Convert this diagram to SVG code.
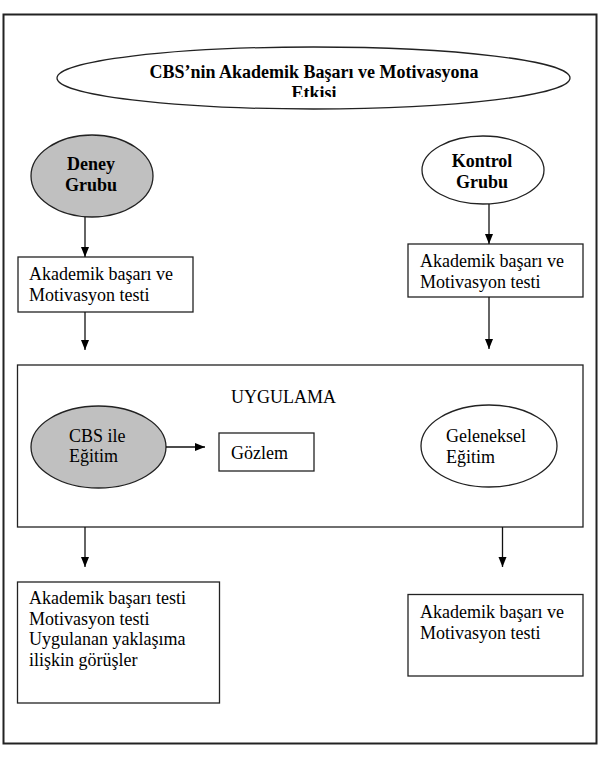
<svg xmlns="http://www.w3.org/2000/svg" width="598" height="758" viewBox="0 0 598 758">
<style>
text{font-family:"Liberation Serif","Times New Roman",serif;font-size:18px;fill:#000}
.b{font-weight:bold}
.m{text-anchor:middle}
.box{fill:#fff;stroke:#222;stroke-width:1.3}
.ell{fill:#fff;stroke:#222;stroke-width:1.3}
.grey{fill:#c0c0c0}
.ln{stroke:#111;stroke-width:1.3;fill:none}
</style>
<defs>
<marker id="ah" markerUnits="userSpaceOnUse" markerWidth="10" markerHeight="10" viewBox="0 0 10 10" refX="10" refY="5" orient="auto">
<path d="M0,1 L10,5 L0,9 Z" fill="#000"/>
</marker>
<clipPath id="tclip"><rect x="0" y="0" width="598" height="97"/></clipPath>
</defs>
<rect id="frame" x="3.5" y="14.5" width="593" height="729" fill="#fff" stroke="#222" stroke-width="2"/>
<g id="title">
<ellipse class="ell" cx="313.5" cy="78" rx="256.5" ry="31"/>
<text class="b m" x="314" y="78">CBS’nin Akademik Başarı ve Motivasyona</text>
<text class="b m" x="314" y="99" clip-path="url(#tclip)">Etkisi</text>
</g>
<g id="deney">
<ellipse class="ell grey" cx="92" cy="176" rx="61" ry="41"/>
<text class="b m" x="91" y="170">Deney</text>
<text class="b m" x="91" y="191">Grubu</text>
</g>
<g id="kontrol">
<ellipse class="ell" cx="483" cy="170" rx="61" ry="34"/>
<text class="b m" x="482" y="167">Kontrol</text>
<text class="b m" x="482" y="188">Grubu</text>
</g>
<g id="test1">
<rect class="box" x="18" y="257" width="175" height="55"/>
<text x="29" y="280">Akademik başarı ve</text>
<text x="29" y="301">Motivasyon testi</text>
</g>
<g id="test2">
<rect class="box" x="408" y="244" width="175" height="53"/>
<text x="420" y="267">Akademik başarı ve</text>
<text x="420" y="288">Motivasyon testi</text>
</g>
<g id="uygulama">
<rect class="box" x="17.5" y="365" width="565.5" height="162"/>
<text x="231" y="403">UYGULAMA</text>
</g>
<g id="cbsegitim">
<ellipse class="ell grey" cx="98.5" cy="447" rx="67.5" ry="41"/>
<text x="69" y="442">CBS ile</text>
<text x="69" y="462">Eğitim</text>
</g>
<g id="gozlem">
<rect class="box" x="219" y="433" width="95" height="38"/>
<text x="231" y="459">Gözlem</text>
</g>
<g id="geleneksel">
<ellipse class="ell" cx="489" cy="446" rx="68" ry="41"/>
<text x="446" y="442">Geleneksel</text>
<text x="446" y="463">Eğitim</text>
</g>
<g id="post1">
<rect class="box" x="17.5" y="582" width="202" height="121"/>
<text x="29" y="604">Akademik başarı testi</text>
<text x="29" y="624.5">Motivasyon testi</text>
<text x="29" y="645">Uygulanan yaklaşıma</text>
<text x="29" y="665.5">ilişkin görüşler</text>
</g>
<g id="post2">
<rect class="box" x="408" y="594.5" width="175" height="81.5"/>
<text x="420" y="618">Akademik başarı ve</text>
<text x="420" y="638.5">Motivasyon testi</text>
</g>
<g id="connectors">
<line class="ln" x1="85" y1="217" x2="85" y2="257" marker-end="url(#ah)"/>
<line class="ln" x1="489" y1="204" x2="489" y2="244" marker-end="url(#ah)"/>
<line class="ln" x1="85" y1="312" x2="85" y2="350" marker-end="url(#ah)"/>
<line class="ln" x1="489" y1="297" x2="489" y2="349" marker-end="url(#ah)"/>
<line class="ln" x1="166" y1="447" x2="205" y2="447" marker-end="url(#ah)"/>
<line class="ln" x1="85" y1="527" x2="85" y2="567" marker-end="url(#ah)"/>
<line class="ln" x1="502.5" y1="527" x2="502.5" y2="567" marker-end="url(#ah)"/>
</g>
</svg>
